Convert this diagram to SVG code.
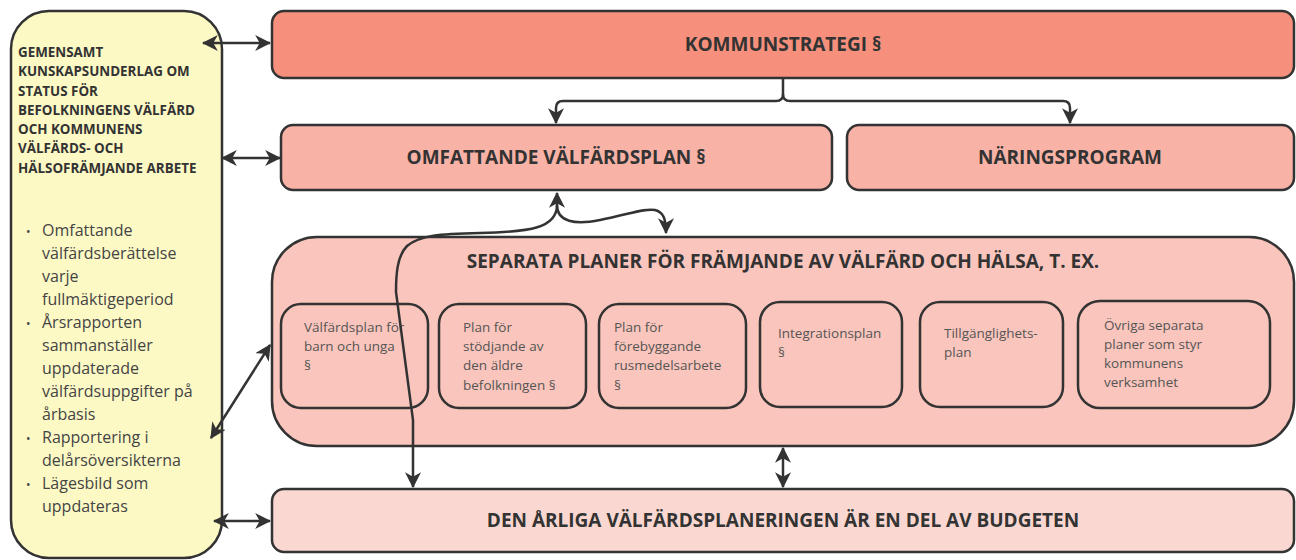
<svg xmlns="http://www.w3.org/2000/svg" width="1296" height="560" viewBox="0 0 1296 560">
<style>
.box{stroke:#333;stroke-width:2.5}
.t{font-family:"Open Sans","Liberation Sans",sans-serif;font-weight:bold;font-size:19px;fill:#333;text-anchor:middle}
.h{font-family:"Open Sans","Liberation Sans",sans-serif;font-weight:bold;font-size:13.4px;fill:#333}
.b{font-family:"Open Sans","Liberation Sans",sans-serif;font-size:16px;fill:#444}
.s{font-family:"Open Sans","Liberation Sans",sans-serif;font-size:13.5px;fill:#555}
.c{fill:none;stroke:#333;stroke-width:2.5}
</style>
<defs>
<marker id="a" viewBox="0 0 14 14" markerWidth="16" markerHeight="16" refX="13" refY="7" orient="auto-start-reverse" markerUnits="userSpaceOnUse">
<path d="M0,0 L14,7 L0,14 L4,7 z" fill="#333"/>
</marker>
</defs>
<g id="left">
<rect class="box" x="11" y="11" width="211" height="547" rx="38" fill="#fdf9c5"/>
<text class="h"><tspan x="18" y="57">GEMENSAMT</tspan><tspan x="18" y="76">KUNSKAPSUNDERLAG OM</tspan><tspan x="18" y="96">STATUS FÖR</tspan><tspan x="18" y="115">BEFOLKNINGENS VÄLFÄRD</tspan><tspan x="18" y="134">OCH KOMMUNENS</tspan><tspan x="18" y="153">VÄLFÄRDS- OCH</tspan><tspan x="18" y="173">HÄLSOFRÄMJANDE ARBETE</tspan></text>
<g class="b">
<text x="26" y="236" font-size="12">•</text><text x="26" y="328" font-size="12">•</text><text x="26" y="443" font-size="12">•</text><text x="26" y="489" font-size="12">•</text>
<text><tspan x="42" y="236">Omfattande</tspan><tspan x="42" y="259">välfärdsberättelse</tspan><tspan x="42" y="282">varje</tspan><tspan x="42" y="305">fullmäktigeperiod</tspan><tspan x="42" y="328">Årsrapporten</tspan><tspan x="42" y="351">sammanställer</tspan><tspan x="42" y="374">uppdaterade</tspan><tspan x="42" y="397">välfärdsuppgifter på</tspan><tspan x="42" y="420">årbasis</tspan><tspan x="42" y="443">Rapportering i</tspan><tspan x="42" y="466">delårsöversikterna</tspan><tspan x="42" y="489">Lägesbild som</tspan><tspan x="42" y="512">uppdateras</tspan></text>
</g>
</g>
<g id="kommunstrategi">
<rect class="box" x="272" y="11" width="1022" height="67" rx="12" fill="#f6907c"/>
<text class="t" x="783" y="51">KOMMUNSTRATEGI §</text>
</g>
<g id="valfardsplan">
<rect class="box" x="281" y="125" width="551" height="65" rx="12" fill="#f8b2a6"/>
<text class="t" x="556" y="164">OMFATTANDE VÄLFÄRDSPLAN §</text>
</g>
<g id="naringsprogram">
<rect class="box" x="847" y="125" width="447" height="65" rx="12" fill="#f8b2a6"/>
<text class="t" x="1070" y="164">NÄRINGSPROGRAM</text>
</g>
<g id="separata">
<rect class="box" x="272" y="237" width="1022" height="209" rx="45" fill="#fac5bc"/>
<text class="t" x="783" y="268">SEPARATA PLANER FÖR FRÄMJANDE AV VÄLFÄRD OCH HÄLSA, T. EX.</text>
</g>
<g id="sub1"><rect class="box" x="281" y="304" width="147" height="104" rx="20" fill="none"/>
<text class="s"><tspan x="304" y="332">Välfärdsplan för</tspan><tspan x="304" y="351">barn och unga</tspan><tspan x="304" y="370">§</tspan></text></g>
<g id="sub2"><rect class="box" x="439" y="304" width="147" height="104" rx="20" fill="none"/>
<text class="s"><tspan x="463" y="332">Plan för</tspan><tspan x="463" y="351">stödjande av</tspan><tspan x="463" y="370">den äldre</tspan><tspan x="463" y="390">befolkningen §</tspan></text></g>
<g id="sub3"><rect class="box" x="599" y="304" width="147" height="104" rx="20" fill="none"/>
<text class="s"><tspan x="614" y="332">Plan för</tspan><tspan x="614" y="351">förebyggande</tspan><tspan x="614" y="370">rusmedelsarbete</tspan><tspan x="614" y="390">§</tspan></text></g>
<g id="sub4"><rect class="box" x="760" y="302" width="142" height="105" rx="20" fill="none"/>
<text class="s"><tspan x="778" y="338">Integrationsplan</tspan><tspan x="778" y="357">§</tspan></text></g>
<g id="sub5"><rect class="box" x="920" y="302" width="143" height="105" rx="20" fill="none"/>
<text class="s"><tspan x="944" y="338">Tillgänglighets-</tspan><tspan x="944" y="357">plan</tspan></text></g>
<g id="sub6"><rect class="box" x="1078" y="301" width="192" height="107" rx="22" fill="none"/>
<text class="s"><tspan x="1104" y="330">Övriga separata</tspan><tspan x="1104" y="349">planer som styr</tspan><tspan x="1104" y="368">kommunens</tspan><tspan x="1104" y="387">verksamhet</tspan></text></g>
<g id="budget">
<rect class="box" x="272" y="489" width="1022" height="63" rx="12" fill="#fad8d1"/>
<text class="t" x="783" y="527">DEN ÅRLIGA VÄLFÄRDSPLANERINGEN ÄR EN DEL AV BUDGETEN</text>
</g>
<g id="connectors">
<path class="c" d="M203,43 L270,43" marker-start="url(#a)" marker-end="url(#a)"/>
<path class="c" d="M222,158 L280,158" marker-start="url(#a)" marker-end="url(#a)"/>
<path class="c" d="M211,438 L270,345" marker-start="url(#a)" marker-end="url(#a)"/>
<path class="c" d="M214,521 L270,521" marker-start="url(#a)" marker-end="url(#a)"/>
<path class="c" d="M783,78 L783,94 Q783,101 776,101 L563,101 Q556,101 556,108 L556,123" marker-end="url(#a)"/>
<path class="c" d="M783,94 Q783,101 790,101 L1063,101 Q1070,101 1070,108 L1070,123" marker-end="url(#a)"/>
<path class="c" d="M783,448 L783,487" marker-start="url(#a)" marker-end="url(#a)"/>
<path class="c" d="M557,193 L557,205 C557,228 530,232 480,233 C440,234 420,235 407,246 C397,256 396,275 396,292 L413,420 L413,487" marker-start="url(#a)" marker-end="url(#a)"/>
<path class="c" d="M557,205 C557,222 575,225 600,220 C630,214 645,208 655,210 C663,212 666,218 666,233" marker-end="url(#a)"/>
</g>
</svg>
